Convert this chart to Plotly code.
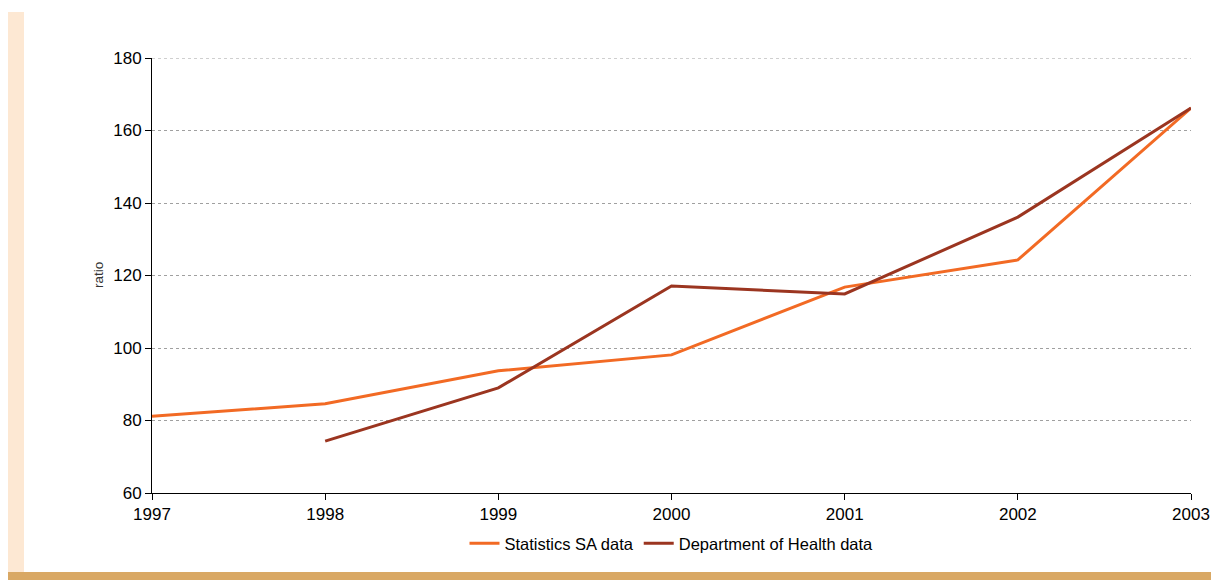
import plotly.graph_objects as go

years = [1997, 1998, 1999, 2000, 2001, 2002, 2003]
stats_sa = [81.2, 84.6, 93.7, 98.1, 116.8, 124.3, 166.2]
doh_years = [1998, 1999, 2000, 2001, 2002, 2003]
doh = [74.3, 89.0, 117.1, 114.9, 136.1, 166.2]
y_ticks = [60, 80, 100, 120, 140, 160, 180]

W, H = 1211, 580
L, R, T, B = 152, 20, 58, 87
pw, ph = W - L - R, H - T - B
GRID_DASH = "3px,3px"
GRID_COLOR = "#a0a0a0"


def px(x):
    return (x - L) / pw


def py(y):
    return (H - B - y) / ph


fig = go.Figure()
fig.add_trace(go.Scatter(x=years, y=stats_sa, mode="lines", name="Statistics SA data",
                         line=dict(color="#F26A24", width=3)))
fig.add_trace(go.Scatter(x=doh_years, y=doh, mode="lines", name="Department of Health data",
                         line=dict(color="#9B3520", width=3)))

# decorative page bands
fig.add_shape(type="rect", xref="paper", yref="paper", x0=px(8), x1=px(24), y0=py(572), y1=py(12),
              fillcolor="#FDE8D3", line_width=0, layer="below")
fig.add_shape(type="rect", xref="paper", yref="paper", x0=px(8), x1=px(1211), y0=py(580), y1=py(572),
              fillcolor="#D9A864", line_width=0, layer="below")
# top gridline at the range edge
fig.add_shape(type="line", xref="paper", yref="y", x0=0, x1=1, y0=y_ticks[-1], y1=y_ticks[-1],
              line=dict(color=GRID_COLOR, width=1, dash=GRID_DASH), layer="below")

fig.add_annotation(text="ratio", xref="paper", yref="paper", x=px(89), y=0.5,
                   textangle=-90, showarrow=False, font=dict(size=13.5, color="#333333"))

font = "Liberation Sans, Arial, sans-serif"
fig.update_layout(
    width=W, height=H,
    margin=dict(l=L, r=R, t=T, b=B),
    paper_bgcolor="white", plot_bgcolor="white",
    font=dict(family=font, size=17, color="#000000"),
    showlegend=True,
    legend=dict(orientation="h", x=0.5, xanchor="center", y=py(526), yanchor="top",
                font=dict(size=16.5), tracegroupgap=0),
    xaxis=dict(range=[1997, 2003], tickvals=years, ticktext=[str(y) for y in years],
               showgrid=False, showline=True, linecolor="#000000", linewidth=1,
               ticks="outside", ticklen=6, tickcolor="#000000", zeroline=False,
               automargin=False, tickfont=dict(size=17)),
    yaxis=dict(range=[60, 180], tickvals=y_ticks, showgrid=True, gridcolor=GRID_COLOR,
               griddash=GRID_DASH, gridwidth=1, showline=True, linecolor="#000000", linewidth=1,
               ticks="outside", ticklen=6, tickcolor="#000000", zeroline=False,
               automargin=False, tickfont=dict(size=17)),
)

fig.write_html("out.html")
